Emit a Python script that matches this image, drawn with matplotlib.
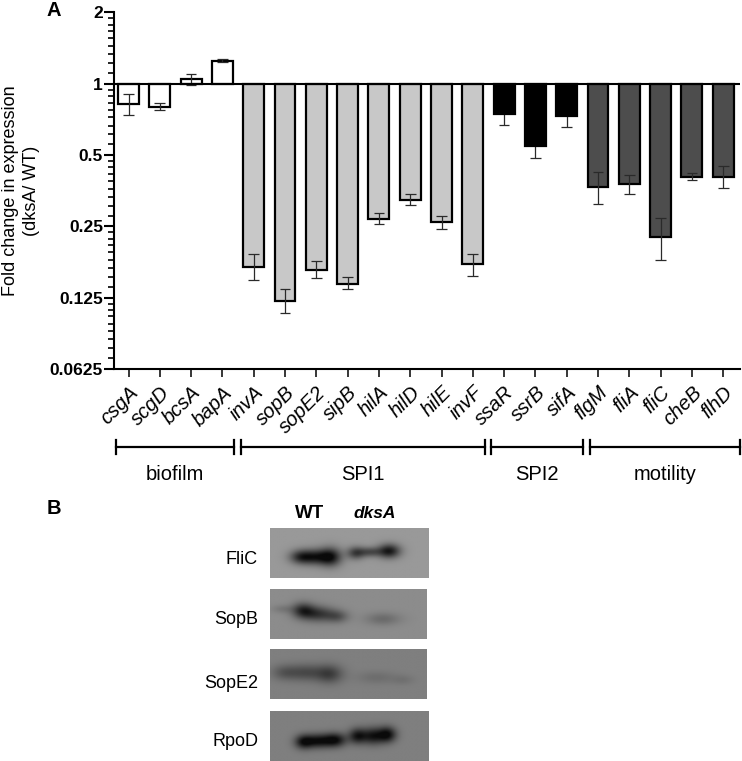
import numpy as np
import matplotlib
matplotlib.use("Agg")
import matplotlib.pyplot as plt
from matplotlib.lines import Line2D

plt.rcParams['font.family'] = ['Liberation Sans', 'DejaVu Sans']

W, H = 742, 761

genes = ['csgA', 'scgD', 'bcsA', 'bapA', 'invA', 'sopB', 'sopE2', 'sipB', 'hilA', 'hilD',
         'hilE', 'invF', 'ssaR', 'ssrB', 'sifA', 'flgM', 'fliA', 'fliC', 'cheB', 'flhD']
fold = [0.821, 0.797, 1.046, 1.254, 0.169, 0.121, 0.164, 0.1435, 0.269, 0.324,
        0.260, 0.173, 0.742, 0.546, 0.733, 0.367, 0.377, 0.225, 0.406, 0.406]
err_hi = [0.905, 0.826, 1.105, 1.271, 0.191, 0.136, 0.178, 0.153, 0.284, 0.342,
          0.277, 0.191, 0.82, 0.61, 0.81, 0.425, 0.412, 0.271, 0.421, 0.451]
err_lo = [0.738, 0.772, 0.99, 1.24, 0.148, 0.108, 0.152, 0.136, 0.255, 0.308,
          0.243, 0.155, 0.671, 0.488, 0.658, 0.311, 0.344, 0.181, 0.393, 0.364]
bar_colors = ['white'] * 4 + ['#c8c8c8'] * 8 + ['black'] * 3 + ['#4d4d4d'] * 5

yticks = [0.0625, 0.125, 0.25, 0.5, 1, 2]
ytick_labels = ['0.0625', '0.125', '0.25', '0.5', '1', '2']

groups = ['biofilm', 'SPI1', 'SPI2', 'motility']
proteins = ['FliC', 'SopB', 'SopE2', 'RpoD']


def px_axes(left, top, right, bottom):
    return fig.add_axes([left / W, 1 - bottom / H, (right - left) / W, (bottom - top) / H])


fig = plt.figure(figsize=(W / 100, H / 100), dpi=100)

# panel A
ax = px_axes(114, 12.5, 740, 369)
ax.set_yscale('log', base=2)
ax.set_ylim(0.0625, 2)
ax.set_xlim(-14.5 / 31.3, 611.5 / 31.3)
x = np.arange(len(genes))
fold = np.array(fold)
bars = ax.bar(x, fold - 1, bottom=1, width=0.67, color=bar_colors, edgecolor='black', linewidth=1.6, zorder=2)
ax.vlines(x, err_lo, err_hi, color='#2a2a2a', linewidth=0.9, zorder=3)
ax.hlines(err_lo, x - 0.17, x + 0.17, color='#2a2a2a', linewidth=0.9, zorder=3)
ax.hlines(err_hi, x - 0.17, x + 0.17, color='#2a2a2a', linewidth=0.9, zorder=3)
# black bars hide the upper half of their error bars
for p, c in zip(bars, bar_colors):
    if c == 'black':
        p.set_zorder(3.5)
ax.axhline(1, color='black', linewidth=1.5, zorder=4)

for s in ['top', 'right']:
    ax.spines[s].set_visible(False)
ax.spines['left'].set_linewidth(1.5)
ax.spines['bottom'].set_linewidth(1.5)

ax.set_yticks(yticks)
ax.set_yticklabels(ytick_labels, fontsize=12.5, fontweight='bold')
ax.yaxis.set_minor_locator(matplotlib.ticker.LogLocator(base=2, subs=np.arange(1, 2, 1 / 9), numticks=12))
ax.yaxis.set_minor_formatter(matplotlib.ticker.NullFormatter())
ax.tick_params(axis='y', which='major', length=7, width=1.5, pad=1)
ax.tick_params(axis='y', which='minor', length=4, width=1.2)
ax.set_xticks(x)
ax.set_xticklabels(genes, rotation=45, ha='right', rotation_mode='anchor', fontsize=14.5, style='italic')
ax.tick_params(axis='x', length=6, width=1.1, pad=4)
ax.set_ylabel('Fold change in expression\n(dksA/ WT)', fontsize=13, labelpad=7, linespacing=1.3)

fig.text(47 / W, 1 - 10 / H, 'A', fontsize=14.5, fontweight='bold', va='center', ha='left')
fig.text(47 / W, 1 - 509 / H, 'B', fontsize=14.5, fontweight='bold', va='center', ha='left')

# group brackets
spans = [(116, 234), (241, 485), (491, 583), (590, 740)]
for name, (a, b) in zip(groups, spans):
    y = 1 - 447 / H
    fig.add_artist(Line2D([a / W, b / W], [y, y], color='black', lw=1.6))
    for e in (a, b):
        fig.add_artist(Line2D([e / W, e / W], [y - 7 / H, y + 7 / H], color='black', lw=1.6))
    fig.text((a + b) / 2 / W, 1 - 474 / H, name, fontsize=14.5, ha='center', va='center')

# panel B, blots: (x centre, y centre, x sigma, y sigma, darkness) as panel fractions
blot_bg = [0.60, 0.55, 0.50, 0.50]
blot_bands = [
    [(0.19, 0.58, 0.05, 0.10, 0.36), (0.28, 0.58, 0.06, 0.11, 0.42), (0.38, 0.58, 0.05, 0.13, 0.50),
     (0.54, 0.50, 0.04, 0.09, 0.34), (0.63, 0.48, 0.05, 0.07, 0.28), (0.75, 0.46, 0.05, 0.10, 0.50)],
    [(0.08, 0.40, 0.05, 0.06, 0.08), (0.21, 0.43, 0.05, 0.11, 0.36), (0.31, 0.50, 0.07, 0.11, 0.32),
     (0.43, 0.55, 0.05, 0.09, 0.20), (0.72, 0.60, 0.08, 0.09, 0.13)],
    [(0.09, 0.47, 0.06, 0.11, 0.14), (0.23, 0.47, 0.08, 0.12, 0.20), (0.38, 0.50, 0.06, 0.13, 0.24),
     (0.68, 0.57, 0.09, 0.09, 0.07), (0.85, 0.62, 0.05, 0.07, 0.05)],
    [(0.21, 0.62, 0.04, 0.10, 0.36), (0.30, 0.60, 0.06, 0.10, 0.42), (0.41, 0.58, 0.05, 0.10, 0.42),
     (0.55, 0.50, 0.04, 0.11, 0.38), (0.65, 0.50, 0.05, 0.12, 0.40), (0.74, 0.47, 0.04, 0.11, 0.42)],
]
blot_boxes = [(270, 528, 428, 578), (270, 589, 427, 639), (270, 649, 427, 699), (270, 711, 428, 761)]
label_y = [560, 619, 683, 742]

yy, xx = np.mgrid[0:1:120j, 0:1:320j]
for name, bg, bands, box, ly in zip(proteins, blot_bg, blot_bands, blot_boxes, label_y):
    img = np.full(xx.shape, bg)
    for cx, cy, sx, sy, d in bands:
        img -= d * np.exp(-((xx - cx) / sx) ** 2 / 2 - ((yy - cy) / sy) ** 2 / 2)
    b = px_axes(*box)
    b.imshow(np.clip(img, 0.04, 1), cmap='gray', vmin=0, vmax=1, aspect='auto', interpolation='bilinear')
    b.axis('off')
    fig.text(258 / W, 1 - ly / H, name, fontsize=13, ha='right', va='center')

fig.text(310 / W, 1 - 513 / H, 'WT', fontsize=13.5, fontweight='bold', ha='center', va='center')
fig.text(375 / W, 1 - 513 / H, 'dksA', fontsize=12.5, fontweight='bold', style='italic', ha='center', va='center')

fig.savefig('out.png', dpi=100)
